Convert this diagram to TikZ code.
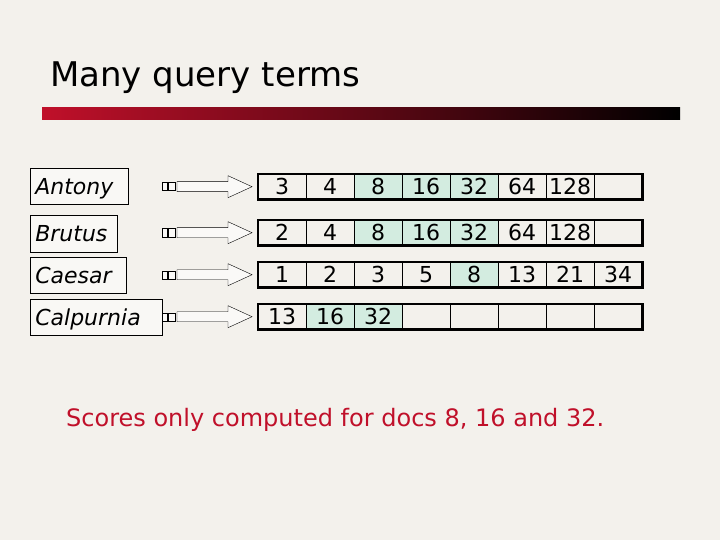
\documentclass[tikz,border=0pt]{standalone}
\usepackage{fontspec}
\setmainfont{DejaVu Sans}
\usetikzlibrary{calc}
\begin{document}
\begin{tikzpicture}[x=1pt,y=-1pt,
  term/.style={draw,semithick,anchor=north west,inner sep=0pt,text depth=0pt,align=left,font=\itshape\fontsize{22}{24}\selectfont,fill=white!50!bgc},
  cellbox/.style={draw,thin,minimum width=48pt,minimum height=25pt,inner sep=0pt,anchor=north west,font=\fontsize{22}{24}\selectfont},
  hl/.style={fill=hlc}]
\definecolor{bgc}{HTML}{F3F1EC}
\definecolor{hlc}{HTML}{D3ECE0}
\definecolor{redc}{HTML}{C0102A}
\fill[bgc] (0,0) rectangle (720,540);
\useasboundingbox (0,0) rectangle (720,540);
\node[anchor=west,inner sep=0pt,font=\fontsize{34}{36}\selectfont] (title) at (50,78) {Many query terms};
\shade[left color=redc,right color=black] (42,108) rectangle (680,120);
% term boxes
\node[term,text width=98pt,minimum height=36pt] (t1) at (30,168) {\hspace*{5pt}Antony};
\node[term,text width=87pt,minimum height=37pt] (t2) at (30,215) {\hspace*{5pt}Brutus};
\node[term,text width=96pt,minimum height=36pt] (t3) at (30,257) {\hspace*{5pt}Caesar};
\node[term,text width=132pt,minimum height=36pt] (t4) at (30,299) {\hspace*{5pt}Calpurnia};
% rows
\foreach \r/\y/\vals/\hls in {1/174/{3,4,8,16,32,64,128,{}}/{3,4,5},
                              2/220/{2,4,8,16,32,64,128,{}}/{3,4,5},
                              3/262/{1,2,3,5,8,13,21,34}/{5},
                              4/304/{13,16,32,{},{},{},{},{}}/{2,3}} {
  \foreach \v [count=\i] in \vals {
    \gdef\f{}
    \foreach \h in \hls {\ifnum\h=\i\global\def\f{hl}\fi}
    \node[cellbox,\f] (c\r-\i) at ({258+48*(\i-1)},\y) {\v};
  }
  \draw[line width=2.5pt] (c\r-1.north west) rectangle (c\r-8.south east);
  \coordinate (a\r) at (c\r-1.west);
  % arrow
  \draw[thin,fill=white!60!bgc] ($(a\r)+(-96,-4)$) rectangle ($(a\r)+(-91,4)$);
  \draw[thin,fill=white!60!bgc] ($(a\r)+(-90,-4)$) rectangle ($(a\r)+(-83,4)$);
  \draw[thin,fill=white!60!bgc] ($(a\r)+(-81,-5)$) -- ($(a\r)+(-30,-5)$) -- ($(a\r)+(-30,-11)$) -- ($(a\r)+(-6,0)$) -- ($(a\r)+(-30,11)$) -- ($(a\r)+(-30,5)$) -- ($(a\r)+(-81,5)$) -- cycle;
}
\node[anchor=west,inner sep=0pt,text=redc,font=\fontsize{24}{26}\selectfont] (note) at (66,420) {Scores only computed for docs 8, 16 and 32.};
\end{tikzpicture}
\end{document}
